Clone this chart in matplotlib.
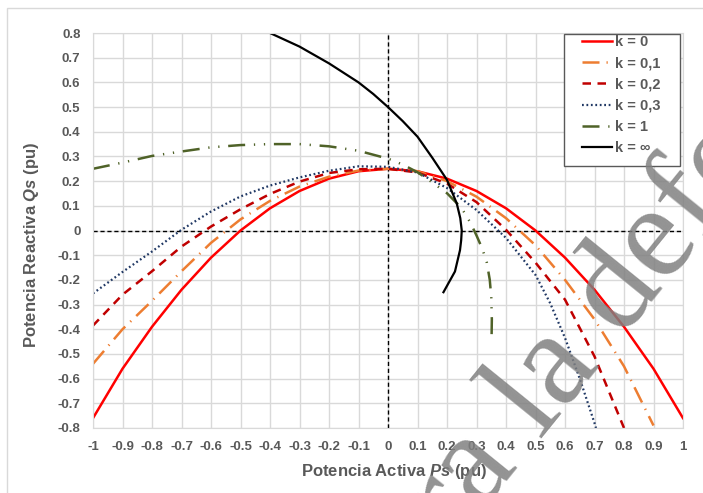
import numpy as np
import matplotlib.pyplot as plt
from matplotlib.patches import Rectangle

plt.rcParams['font.family'] = ['Liberation Sans', 'DejaVu Sans']
plt.rcParams['mathtext.fontset'] = 'custom'
plt.rcParams['mathtext.it'] = 'Liberation Sans:italic:bold'
plt.rcParams['mathtext.rm'] = 'Liberation Sans:bold'

# === Datos (P, Q en pu) ===
p_k0 = [-1, -0.9, -0.8, -0.7, -0.6, -0.5, -0.4, -0.3, -0.2, -0.1, 0,
        0.1, 0.2, 0.3, 0.4, 0.5, 0.6, 0.7, 0.8, 0.9, 1]
q_k0 = [-0.76, -0.56, -0.39, -0.24, -0.11, 0.0, 0.09, 0.16, 0.21, 0.24, 0.25,
        0.24, 0.21, 0.16, 0.09, 0.0, -0.11, -0.24, -0.39, -0.56, -0.76]

p_k01 = [-1, -0.9, -0.8, -0.7, -0.6, -0.5, -0.4, -0.3, -0.2, -0.1, 0,
         0.1, 0.2, 0.3, 0.4, 0.5, 0.6, 0.7, 0.8, 0.9]
q_k01 = [-0.54, -0.40, -0.285, -0.165, -0.05, 0.045, 0.12, 0.178, 0.218, 0.243, 0.25,
         0.24, 0.20, 0.137, 0.05, -0.06, -0.20, -0.36, -0.55, -0.79]

p_k02 = [-1, -0.9, -0.8, -0.7, -0.6, -0.5, -0.4, -0.3, -0.2, -0.1, 0,
         0.1, 0.2, 0.3, 0.4, 0.5, 0.6, 0.7, 0.8]
q_k02 = [-0.385, -0.26, -0.165, -0.065, 0.016, 0.086, 0.148, 0.198, 0.233, 0.248, 0.25,
         0.235, 0.19, 0.115, 0.003, -0.13, -0.28, -0.51, -0.80]

p_k03 = [-1, -0.9, -0.8, -0.7, -0.6, -0.5, -0.4, -0.3, -0.2, -0.1, 0,
         0.1, 0.2, 0.3, 0.4, 0.5, 0.55, 0.6, 0.65, 0.7, 0.705]
q_k03 = [-0.255, -0.168, -0.085, 0.003, 0.077, 0.138, 0.182, 0.215, 0.242, 0.26, 0.258,
         0.235, 0.172, 0.083, -0.03, -0.18, -0.295, -0.435, -0.60, -0.78, -0.80]

p_k1 = [-1, -0.9, -0.8, -0.7, -0.6, -0.5, -0.4, -0.3, -0.2, -0.1, 0, 0.05, 0.1,
        0.15, 0.2, 0.25, 0.28, 0.3, 0.32, 0.335, 0.345, 0.35, 0.352, 0.351]
q_k1 = [0.25, 0.275, 0.302, 0.32, 0.337, 0.346, 0.35, 0.35, 0.341, 0.323, 0.291, 0.267, 0.236,
        0.195, 0.151, 0.09, 0.03, -0.02, -0.075, -0.13, -0.2, -0.27, -0.36, -0.44]

p_kinf = [-0.4, -0.3, -0.2, -0.1, -0.05, 0, 0.05, 0.1, 0.15, 0.2, 0.233, 0.245, 0.25,
          0.248, 0.244, 0.227, 0.188]
q_kinf = [0.8, 0.745, 0.677, 0.6, 0.553, 0.5, 0.443, 0.38, 0.295, 0.205, 0.11, 0.05, 0.0,
          -0.04, -0.08, -0.166, -0.25]

labels = ["k = 0", "k = 0,1", "k = 0,2", "k = 0,3", "k = 1", "k = \u221e"]

x_ticks = np.round(np.arange(-1, 1.01, 0.1), 1)
y_ticks = np.round(np.arange(-0.8, 0.81, 0.1), 1)

def fmt(v):
    if v == 0:
        return "0"
    if v == int(v):
        return f"{int(v)}"
    return f"{v:g}"

# === Figura ===
fig = plt.figure(figsize=(7.03, 4.93), dpi=100)
fig.patches.append(Rectangle((7 / 703, -0.1), 1.2, 1 - 8 / 493 + 0.1,
                             transform=fig.transFigure, fill=False,
                             edgecolor="#d9d9d9", lw=1))
ax = fig.add_axes([93 / 703, 65 / 493, 590 / 703, 395 / 493])

gray = "#595959"
ax.plot(p_k0, q_k0, color="#ff0000", lw=1.8, label=labels[0])
ax.plot(p_k01, q_k01, color="#ed7d31", lw=1.8, linestyle=(0, (6.8, 2.8, 0.5, 2.8)), label=labels[1])
ax.plot(p_k02, q_k02, color="#c00000", lw=1.8, linestyle=(0, (3.4, 2.6)), label=labels[2])
ax.plot(p_k03, q_k03, color="#203864", lw=1.6, linestyle=(0, (0.8, 1.2)), label=labels[3])
ax.plot(p_k1, q_k1, color="#4f6228", lw=1.8, linestyle=(0, (6.8, 3.5, 0.5, 3.5, 0.5, 3.5)), label=labels[4])
ax.plot(p_kinf, q_kinf, color="black", lw=1.6, label=labels[5])

ax.axhline(0, color="black", lw=1, linestyle=(0, (3, 2)), zorder=1.5)
ax.axvline(0, color="black", lw=1, linestyle=(0, (3, 2)), zorder=1.5)

ax.set_xlim(-1, 1)
ax.set_ylim(-0.8, 0.8)
ax.set_xticks(x_ticks)
ax.set_yticks(y_ticks)
ax.set_xticklabels([fmt(v) for v in x_ticks])
ax.set_yticklabels([fmt(v) for v in y_ticks])
ax.tick_params(length=0, labelsize=9.5, labelcolor=gray, pad=9)
for lab in ax.get_xticklabels() + ax.get_yticklabels():
    lab.set_fontweight("bold")
ax.grid(True, color="#d9d9d9", lw=1)
ax.set_axisbelow(True)
for s in ax.spines.values():
    s.set_color("#d9d9d9")

ax.set_xlabel(r"Potencia Activa $Ps$ (pu)", fontsize=12, fontweight="bold", color=gray)
ax.set_ylabel(r"Potencia Reactiva $Qs$ (pu)", fontsize=12, fontweight="bold", color=gray)
ax.xaxis.set_label_coords(0.51, -0.087)
ax.yaxis.set_label_coords(-0.088, 0.463)

# leyenda: marco dibujado aparte para tener el margen lateral de Excel
ax.add_patch(Rectangle((0.798, 0.663), 0.197, 0.334, transform=ax.transAxes,
                       facecolor="white", edgecolor=gray, lw=1, zorder=4.5))
leg = ax.legend(loc="upper left", bbox_to_anchor=((582 - 93) / 590, (428 - 35) / 395),
                frameon=False, fontsize=10.5, handlelength=2.05,
                handletextpad=0.2, labelspacing=0.5, borderpad=0, borderaxespad=0)
for t in leg.get_texts():
    t.set_color(gray)
    t.set_fontweight("bold")

# marca de agua
fig.text(374 / 703, 1 - 645 / 493, "para la defensa", fontsize=96.5, family="Liberation Serif",
         color="#808080", alpha=0.85, rotation=51, rotation_mode="anchor",
         ha="left", va="baseline", zorder=10)

fig.savefig("out.png", dpi=100)
